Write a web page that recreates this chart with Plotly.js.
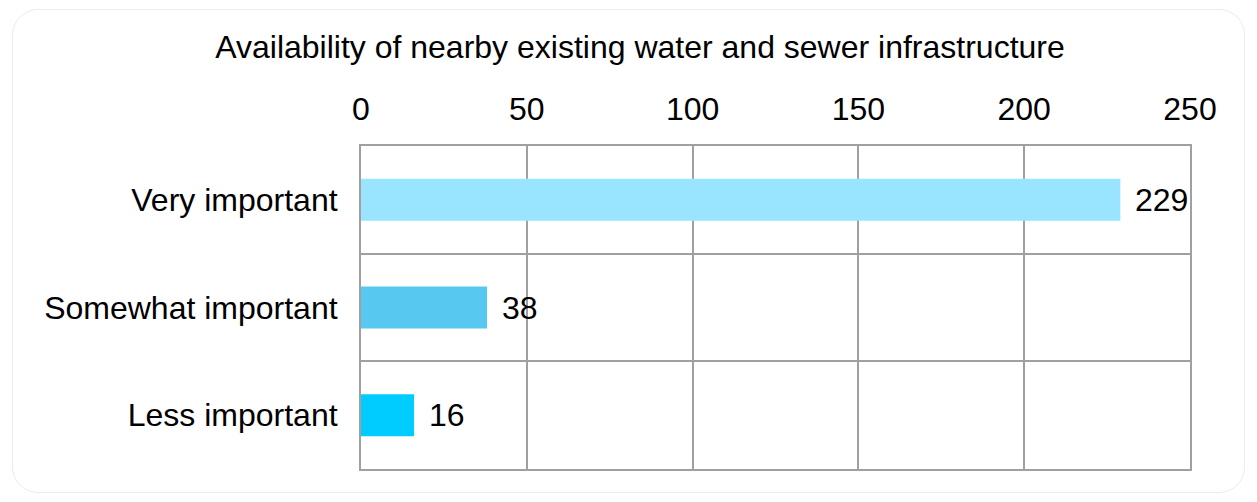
<!DOCTYPE html>
<html>
<head>
<meta charset="utf-8">
<script src="https://cdn.plot.ly/plotly-3.0.1.min.js"></script>
<style>
  html, body { margin: 0; padding: 0; background: #ffffff; }
  #frame { position: absolute; left: 12px; top: 9px; width: 1231px; height: 482px;
           border: 1px solid #ececec; border-radius: 26px; }
  #chart { position: absolute; left: 0; top: 0; width: 1257px; height: 502px; }
</style>
</head>
<body>
<div id="frame"></div>
<div id="chart"></div>
<script>
const categories = ["Very important", "Somewhat important", "Less important"];
const counts = [229, 38, 16];
const barColors = ["#99E5FF", "#57C8EF", "#00CCFF"];
const xTicks = [0, 50, 100, 150, 200, 250];
const chartTitle = "Availability of nearby existing water and sewer infrastructure";

const FONT = "Liberation Sans, Arial, sans-serif";
const FS = 32;

const trace = {
  type: "bar",
  orientation: "h",
  y: categories,
  x: counts,
  width: 0.39,
  marker: { color: barColors, line: { width: 0 } },
  hoverinfo: "skip"
};

const annotations = categories.map((c, i) => ({
  x: counts[i], y: c, xref: "x", yref: "y",
  text: String(counts[i]), showarrow: false,
  xanchor: "left", yanchor: "middle", xshift: 13,
  font: { family: FONT, size: FS, color: "#000" }
}));

const layout = {
  width: 1257, height: 502,
  margin: { l: 361, r: 67, t: 146, b: 33 },
  paper_bgcolor: "rgba(0,0,0,0)",
  plot_bgcolor: "#ffffff",
  showlegend: false,
  font: { family: FONT, size: FS, color: "#000" },
  title: {
    text: chartTitle,
    font: { family: FONT, size: FS, color: "#000" },
    x: 640 / 1257, xanchor: "center", xref: "container",
    y: 1 - 47 / 502, yanchor: "middle", yref: "container"
  },
  xaxis: {
    side: "top",
    range: [0, 250],
    tickvals: xTicks,
    ticktext: xTicks.map(String),
    showgrid: true, gridcolor: "#a0a0a0", gridwidth: 2,
    showline: true, linecolor: "#a0a0a0", linewidth: 2, mirror: true,
    zeroline: false,
    ticks: "", ticklabelstandoff: 11,
    tickfont: { family: FONT, size: FS, color: "#000" },
    fixedrange: true
  },
  yaxis: {
    type: "category",
    autorange: "reversed",
    tickson: "boundaries",
    showgrid: true, gridcolor: "#a0a0a0", gridwidth: 2,
    showline: true, linecolor: "#a0a0a0", linewidth: 2, mirror: true,
    zeroline: false,
    ticks: "", ticklabelstandoff: 15,
    tickfont: { family: FONT, size: FS, color: "#000" },
    fixedrange: true
  },
  annotations: annotations
};

Plotly.newPlot("chart", [trace], layout, { displayModeBar: false, staticPlot: true });
</script>
</body>
</html>
